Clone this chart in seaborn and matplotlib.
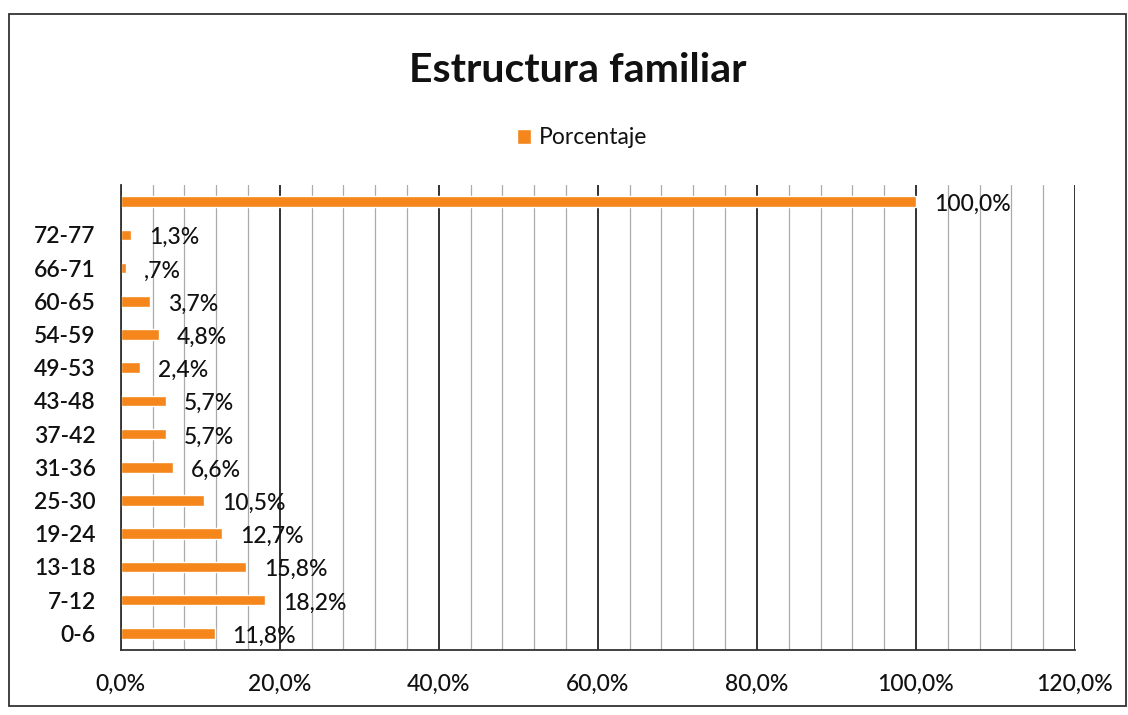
import numpy as np
import pandas as pd
import matplotlib.pyplot as plt
import seaborn as sns
from matplotlib.ticker import MultipleLocator, FuncFormatter
from matplotlib.patches import Rectangle

# data, top to bottom
groups = ['', '72-77', '66-71', '60-65', '54-59', '49-53', '43-48', '37-42',
          '31-36', '25-30', '19-24', '13-18', '7-12', '0-6']
pct = [100.0, 1.3, 0.7, 3.7, 4.8, 2.4, 5.7, 5.7, 6.6, 10.5, 12.7, 15.8, 18.2, 11.8]
pct_labels = ['100,0%', '1,3%', ',7%', '3,7%', '4,8%', '2,4%', '5,7%', '5,7%',
              '6,6%', '10,5%', '12,7%', '15,8%', '18,2%', '11,8%']

sns.set_style('white')
plt.rcParams['font.family'] = ['Lato', 'DejaVu Sans']

df = pd.DataFrame({'grupo': groups, 'Porcentaje': pct})

fig = plt.figure(figsize=(11.28, 7.15), dpi=100)
ax = fig.add_axes([0.107, 0.091, 0.846, 0.650])

sns.barplot(data=df, x='Porcentaje', y='grupo', order=groups, orient='h',
            color='#F5861C', width=0.32, saturation=1, ax=ax, label='Porcentaje')

ax.set_xlim(0, 120)
ax.set_ylim(len(groups) - 0.5, -0.5)
ax.xaxis.set_major_locator(MultipleLocator(20))
ax.xaxis.set_minor_locator(MultipleLocator(4))
ax.xaxis.set_major_formatter(FuncFormatter(lambda v, p: f'{v:.1f}%'.replace('.', ',')))
ax.grid(True, which='major', axis='x', color='#222222', lw=1.3)
ax.grid(True, which='minor', axis='x', color='#aaaaaa', lw=0.9)
ax.set_axisbelow(True)

# tick marks between the categories, like the spreadsheet chart
ax.set_yticks(np.arange(len(groups) - 1) + 0.5, minor=True)
ax.tick_params(axis='y', which='major', length=0, pad=18, labelsize=16.5, labelcolor='#111111')
ax.tick_params(axis='y', which='minor', length=6, width=1.2, color='#333333', direction='out')
ax.tick_params(axis='x', which='both', length=0, pad=17, labelsize=16.5, labelcolor='#111111')
for t in ax.get_yticklabels():
    t.set_fontweight('semibold')
for t in ax.get_xticklabels():
    t.set_fontweight('medium')
ax.set_xlabel('')
ax.set_ylabel('')

ax.spines['top'].set_visible(False)
ax.spines['right'].set_visible(False)
for s in ['left', 'bottom']:
    ax.spines[s].set_color('#333333')
    ax.spines[s].set_linewidth(1.3)

for i, (v, lab) in enumerate(zip(pct, pct_labels)):
    ax.annotate(lab, (v, i), xytext=(13, -2), textcoords='offset points',
                ha='left', va='center', fontsize=16.5, fontweight='medium',
                color='#111111')

fig.text(0.512, 0.902, 'Estructura familiar', ha='center', va='center',
         fontsize=29.5, fontweight='bold', color='#111111')
ax.legend(loc='center', bbox_to_anchor=(0.516, 0.807), bbox_transform=fig.transFigure,
          frameon=False, fontsize=16.5, handlelength=0.6, handleheight=0.6,
          handletextpad=0.35, labelcolor='#111111')

fig.patches.append(Rectangle((0.008, 0.012), 0.99, 0.968, transform=fig.transFigure,
                             fill=False, edgecolor='#333333', lw=1.3))

fig.savefig('out.png', dpi=100)
